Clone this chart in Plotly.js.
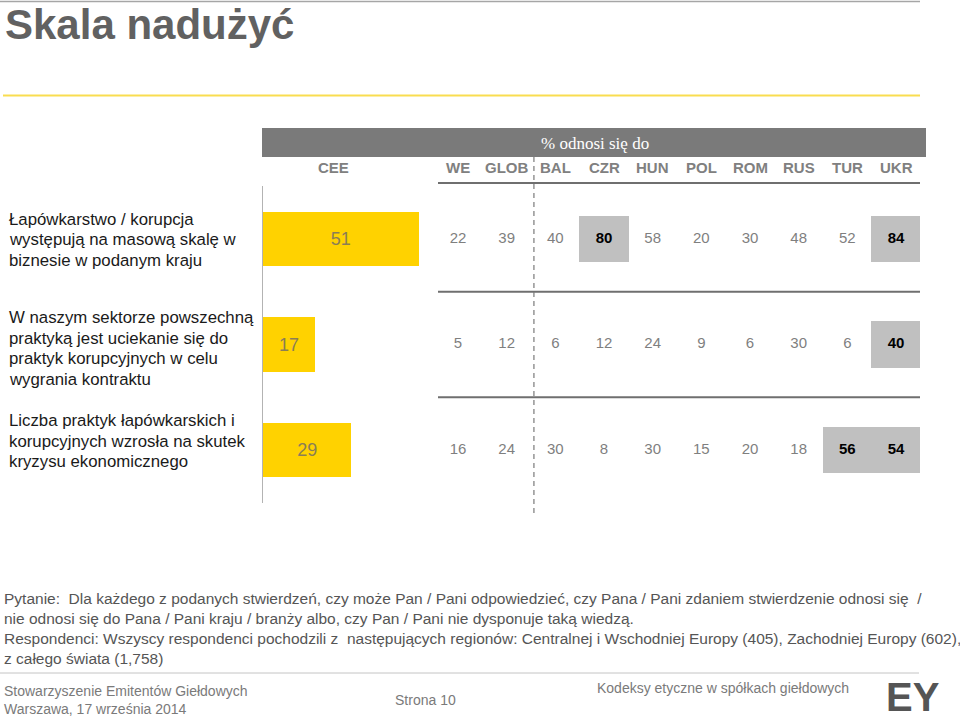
<!DOCTYPE html>
<html>
<head>
<meta charset="utf-8">
<script src="https://cdn.plot.ly/plotly-3.0.1.min.js"></script>
<style>
  html, body { margin: 0; padding: 0; background: #ffffff; }
  #chart { width: 960px; height: 721px; }
</style>
</head>
<body>
<div id="chart"></div>
<script>
// ---------------- DATA ----------------
const TITLE = "Skala nadużyć";
const STATEMENTS = [
  "Łapówkarstwo / korupcja<br>występują na masową skalę w<br>biznesie w podanym kraju",
  "W naszym sektorze powszechną<br>praktyką jest uciekanie się do<br>praktyk korupcyjnych w celu<br>wygrania kontraktu",
  "Liczba praktyk łapówkarskich i<br>korupcyjnych wzrosła na skutek<br>kryzysu ekonomicznego"
];
const CEE_LABEL = "CEE";
const CEE_VALUES = [51, 17, 29];
const COLUMNS = ["WE", "GLOB", "BAL", "CZR", "HUN", "POL", "ROM", "RUS", "TUR", "UKR"];
const ROW1_VALUES = [22, 39, 40, 80, 58, 20, 30, 48, 52, 84];
const ROW2_VALUES = [5, 12, 6, 12, 24, 9, 6, 30, 6, 40];
const ROW3_VALUES = [16, 24, 30, 8, 30, 15, 20, 18, 56, 54];
const ROW1_HIGHLIGHT = ["CZR", "UKR"];
const ROW2_HIGHLIGHT = ["UKR"];
const ROW3_HIGHLIGHT = ["TUR", "UKR"];
const GROUP_HEADER = "% odnosi się do";
const SPLIT_AFTER = "GLOB";   // dashed divider after this column
const QUESTION_TEXT = "Pytanie:  Dla każdego z podanych stwierdzeń, czy może Pan / Pani odpowiedzieć, czy Pana / Pani zdaniem stwierdzenie odnosi się  /<br>nie odnosi się do Pana / Pani kraju / branży albo, czy Pan / Pani nie dysponuje taką wiedzą.<br>Respondenci: Wszyscy respondenci pochodzili z  następujących regionów: Centralnej i Wschodniej Europy (405), Zachodniej Europy (602),<br>z całego świata (1,758)";
const FOOTER_LEFT = "Stowarzyszenie Emitentów Giełdowych<br>Warszawa, 17 września 2014";
const FOOTER_PAGE = "Strona 10";
const FOOTER_RIGHT = "Kodeksy etyczne w spółkach giełdowych";
const LOGO = "EY";

// ---------------- LAYOUT GEOMETRY ----------------
const W = 960, H = 721;
const M = {l: 263, r: 40, t: 186, b: 218};
const PW = W - M.l - M.r, PH = H - M.t - M.b;
const px = x => (x - M.l) / PW;          // pixel -> paper x
const py = y => (H - M.b - y) / PH;      // pixel -> paper y
const X1_RANGE = [0, PW / 3.05];
const X2_RANGE = [-4.007, 9.493];
const x2paper = i => (i - X2_RANGE[0]) / (X2_RANGE[1] - X2_RANGE[0]);
const Y_RANGE = [2.5, -0.5];
const ydata2paper = v => (Y_RANGE[0] - v) / (Y_RANGE[0] - Y_RANGE[1]);

const FONT = "Liberation Sans, Arial, Helvetica, sans-serif";
const YELLOW = "#ffd200";
const BOX_GREY = "#c0c0c0";

const rowValues = [ROW1_VALUES, ROW2_VALUES, ROW3_VALUES];
const rowHighlights = [ROW1_HIGHLIGHT, ROW2_HIGHLIGHT, ROW3_HIGHLIGHT];
const rowIdx = STATEMENTS.map((_, i) => i);

// highlight boxes
const hx = [], hy = [], hbase = [];
const BOX_H = 0.44;
rowHighlights.forEach((list, r) => list.forEach(c => { hx.push(c); hy.push(BOX_H); hbase.push(r - BOX_H / 2); }));

// value texts
const tx = [], ty = [], tt = [], tc = [];
rowValues.forEach((vals, r) => vals.forEach((v, i) => {
  const hi = rowHighlights[r].includes(COLUMNS[i]);
  tx.push(COLUMNS[i]); ty.push(r);
  tt.push(hi ? "<b>" + v + "</b>" : String(v));
  tc.push(hi ? "#000000" : "#7f7f7f");
}));

const traces = [
  {
    type: "bar", orientation: "h",
    x: CEE_VALUES, y: rowIdx, width: 0.512,
    xaxis: "x", yaxis: "y",
    marker: {color: YELLOW, line: {width: 0}},
    text: CEE_VALUES.map(String), textposition: "inside", insidetextanchor: "middle",
    constraintext: "none",
    textfont: {family: FONT, size: 18, color: "#8a7e56"},
    hoverinfo: "skip"
  },
  {
    type: "bar",
    x: hx, y: hy, base: hbase, width: 1.01,
    xaxis: "x2", yaxis: "y",
    marker: {color: BOX_GREY, line: {width: 0}},
    hoverinfo: "skip"
  },
  {
    type: "scatter", mode: "text",
    x: tx, y: ty, text: tt,
    xaxis: "x2", yaxis: "y",
    textposition: "middle center",
    textfont: {family: FONT, size: 15, color: tc},
    cliponaxis: false, hoverinfo: "skip"
  }
];

const splitPos = COLUMNS.indexOf(SPLIT_AFTER) + 0.56;

const shapes = [
  // top thin grey rule
  {type: "line", xref: "paper", yref: "paper", x0: px(0), x1: px(920), y0: py(1.5), y1: py(1.5), line: {color: "#a6a6a6", width: 1.5}},
  // yellow rule under the title
  {type: "line", xref: "paper", yref: "paper", x0: px(3), x1: px(920), y0: py(95.5), y1: py(95.5), line: {color: "#f9dd50", width: 2}},
  // header band
  {type: "rect", xref: "paper", yref: "paper", x0: px(262), x1: px(926), y0: py(157), y1: py(128), fillcolor: "#7a7a7a", line: {width: 0}, layer: "below"},
  // column separators
  {type: "line", xref: "paper", yref: "paper", x0: px(438), x1: px(920), y0: py(183), y1: py(183), line: {color: "#6f6f6f", width: 2}},
  {type: "line", xref: "paper", yref: "paper", x0: px(438), x1: px(920), y0: ydata2paper(0.5), y1: ydata2paper(0.5), line: {color: "#6f6f6f", width: 2}},
  {type: "line", xref: "paper", yref: "paper", x0: px(438), x1: px(920), y0: ydata2paper(1.5), y1: ydata2paper(1.5), line: {color: "#6f6f6f", width: 2}},
  // dashed divider
  {type: "line", xref: "paper", yref: "paper", x0: x2paper(splitPos), x1: x2paper(splitPos), y0: py(157), y1: py(513), line: {color: "#7a7a7a", width: 1.2, dash: "5px,4px"}},
  // footer rule
  {type: "line", xref: "paper", yref: "paper", x0: px(0), x1: px(919), y0: py(673), y1: py(673), line: {color: "#c4c4c4", width: 1}}
];

const annotations = [
  {xref: "paper", yref: "paper", x: px(595), y: py(143), text: GROUP_HEADER, showarrow: false,
   xanchor: "center", yanchor: "middle", font: {family: "Liberation Serif, Times New Roman, serif", size: 17, color: "#ffffff"}},
  {xref: "paper", yref: "paper", x: px(333), y: py(167.5), text: "<b>" + CEE_LABEL + "</b>", showarrow: false,
   xanchor: "center", yanchor: "middle", font: {family: FONT, size: 15, color: "#808080"}},
  // footer
  {xref: "paper", yref: "paper", x: px(2), y: py(628.5), text: QUESTION_TEXT, showarrow: false, align: "left",
   xanchor: "left", yanchor: "middle", font: {family: FONT, size: 15.5, color: "#555555"}},
  {xref: "paper", yref: "paper", x: px(2), y: py(700), text: FOOTER_LEFT, showarrow: false, align: "left",
   xanchor: "left", yanchor: "middle", font: {family: FONT, size: 14, color: "#7a7a7a"}},
  {xref: "paper", yref: "paper", x: px(425), y: py(700), text: FOOTER_PAGE, showarrow: false,
   xanchor: "center", yanchor: "middle", font: {family: FONT, size: 14, color: "#7a7a7a"}},
  {xref: "paper", yref: "paper", x: px(723), y: py(688), text: FOOTER_RIGHT, showarrow: false,
   xanchor: "center", yanchor: "middle", font: {family: FONT, size: 14, color: "#7a7a7a"}},
  {xref: "paper", yref: "paper", x: px(913), y: py(697), text: "<b>" + LOGO + "</b>", showarrow: false, borderpad: 0,
   xanchor: "center", yanchor: "middle", font: {family: FONT, size: 40, color: "#555555"}}
];
COLUMNS.forEach((c, i) => annotations.push({
  xref: "x2", yref: "paper", x: i, y: py(168), text: "<b>" + c + "</b>", showarrow: false,
  xanchor: "center", yanchor: "middle", font: {family: FONT, size: 15, color: "#808080"}
}));
// statement labels: one annotation per line for tight line spacing
const LABEL_SHIFT = [-1, -4, 8.7];
const LABEL_LINE = 20.5;
STATEMENTS.forEach((s, r) => {
  const lines = s.split("<br>");
  const n = lines.length;
  lines.forEach((ln, k) => annotations.push({
    xref: "paper", yref: "y", x: px(7), y: r,
    yshift: LABEL_SHIFT[r] - (k - (n - 1) / 2) * LABEL_LINE,
    text: ln, showarrow: false, align: "left",
    xanchor: "left", yanchor: "middle", font: {family: FONT, size: 16.8, color: "#1a1a1a"}
  }));
});

const layout = {
  width: W, height: H,
  margin: M,
  paper_bgcolor: "#ffffff", plot_bgcolor: "rgba(0,0,0,0)",
  showlegend: false,
  title: {text: "<b>" + TITLE + "</b>", x: 5 / W, xanchor: "left", xref: "container",
          y: 1 - 24.5 / H, yanchor: "middle", yref: "container",
          font: {family: FONT, size: 42, color: "#616161"}},
  xaxis: {range: X1_RANGE, visible: false, fixedrange: true},
  xaxis2: {type: "category", categoryarray: COLUMNS, categoryorder: "array", range: X2_RANGE,
           overlaying: "x", anchor: "y", visible: false, fixedrange: true},
  yaxis: {range: Y_RANGE, showline: true, linecolor: "#b3b3b3", linewidth: 1,
          showticklabels: false, ticks: "", showgrid: false, zeroline: false, fixedrange: true},
  shapes: shapes,
  annotations: annotations,
  bargap: 0
};

Plotly.newPlot("chart", traces, layout, {staticPlot: true, displayModeBar: false});
</script>
</body>
</html>
